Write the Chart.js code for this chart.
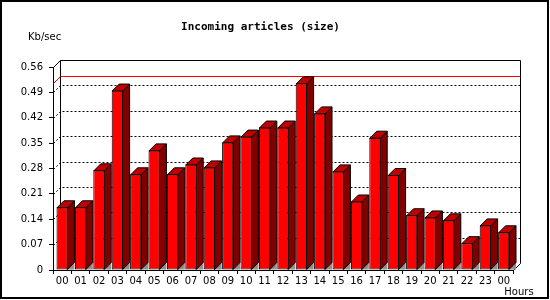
<!DOCTYPE html>
<html>
<head>
<meta charset="utf-8">
<script src="https://cdn.jsdelivr.net/npm/chart.js@4.4.1/dist/chart.umd.min.js"></script>
<style>
  html, body { margin: 0; padding: 0; background: #fff; }
  canvas { display: block; }
</style>
</head>
<body>
<canvas id="myChart" width="550" height="300"></canvas>
<script>
'use strict';
const hours = ['00', '01', '02', '03', '04', '05', '06', '07', '08', '09', '10', '11',
  '12', '13', '14', '15', '16', '17', '18', '19', '20', '21', '22', '23', '00'];
const sizeKb = [0.173, 0.173, 0.275, 0.495, 0.264, 0.330, 0.264, 0.291, 0.283, 0.352, 0.368, 0.393,
  0.393, 0.515, 0.432, 0.272, 0.189, 0.365, 0.262, 0.151, 0.145, 0.137, 0.074, 0.123, 0.104];
const yTicks = [0, 0.07, 0.14, 0.21, 0.28, 0.35, 0.42, 0.49, 0.56];
const titleText = 'Incoming articles (size)';
const yUnit = 'Kb/sec';
const xUnit = 'Hours';

const DEPTH = 7;
const labelFont = { family: 'DejaVu Sans', size: 10 };

// fake 3d: back wall, side wall, bar sides and tops
const fake3d = {
  id: 'fake3d',
  beforeDatasetsDraw(chart) {
    const { ctx, chartArea: a, scales: { y } } = chart;
    const d = DEPTH;
    const L = Math.round(a.left) + 0.5, R = Math.round(a.right) + 0.5;
    const top = Math.round(y.getPixelForValue(yTicks[yTicks.length - 1])) + 0.5;
    const bot = Math.round(y.getPixelForValue(0)) + 0.5;
    ctx.save();
    ctx.lineWidth = 1;
    ctx.strokeStyle = '#000';
    ctx.setLineDash([2, 2]);
    yTicks.slice(1, -1).forEach(v => {
      const py = Math.round(y.getPixelForValue(v)) + 0.5;
      ctx.beginPath();
      ctx.moveTo(L + d + 2, py - d);
      ctx.lineTo(R + d, py - d);
      ctx.stroke();
      ctx.beginPath();
      ctx.moveTo(L, py);
      ctx.lineTo(L + d, py - d);
      ctx.stroke();
    });
    ctx.setLineDash([]);
    ctx.beginPath();
    ctx.moveTo(L, top);
    ctx.lineTo(L + d, top - d);
    ctx.lineTo(R + d, top - d);
    ctx.lineTo(R + d, bot - d);
    ctx.lineTo(R, bot);
    ctx.moveTo(L + d, top - d);
    ctx.lineTo(L + d, bot - d);
    ctx.stroke();
    // max line
    const my = Math.round(y.getPixelForValue(Math.max(...sizeKb))) + 0.5;
    ctx.strokeStyle = '#ff0000';
    ctx.beginPath();
    ctx.moveTo(L, my);
    ctx.lineTo(L + d, my - d);
    ctx.lineTo(R + d, my - d);
    ctx.stroke();
    ctx.restore();
  },
  afterDatasetsDraw(chart) {
    const { ctx } = chart;
    const d = DEPTH;
    ctx.save();
    ctx.lineWidth = 1;
    ctx.strokeStyle = '#000';
    chart.getDatasetMeta(0).data.forEach(bar => {
      const p = bar.getProps(['x', 'y', 'base', 'width'], true);
      const l = p.x - p.width / 2;
      const r = p.x + p.width / 2 - 0.5;
      const t = p.y + 0.5;
      const b = p.base;
      // floor shadow
      ctx.fillStyle = '#909090';
      ctx.beginPath();
      ctx.moveTo(r, b);
      ctx.lineTo(r + d, b - d);
      ctx.lineTo(r + d, b);
      ctx.closePath();
      ctx.fill();
      // side
      ctx.fillStyle = '#800000';
      ctx.beginPath();
      ctx.moveTo(r, t);
      ctx.lineTo(r + d, t - d);
      ctx.lineTo(r + d, b - d);
      ctx.lineTo(r, b);
      ctx.closePath();
      ctx.fill();
      ctx.stroke();
      // top
      ctx.fillStyle = '#c00000';
      ctx.beginPath();
      ctx.moveTo(l + 0.5, t);
      ctx.lineTo(l + 0.5 + d, t - d);
      ctx.lineTo(r + d, t - d);
      ctx.lineTo(r, t);
      ctx.closePath();
      ctx.fill();
      ctx.stroke();
    });
    ctx.restore();
  },
  afterDraw(chart) {
    const { ctx } = chart;
    ctx.save();
    ctx.fillStyle = '#000';
    ctx.textBaseline = 'middle';
    ctx.font = 'bold 11px "DejaVu Sans Mono"';
    ctx.textAlign = 'center';
    ctx.fillText(titleText, 260.5, 27);
    ctx.font = '10px "DejaVu Sans"';
    ctx.textAlign = 'left';
    ctx.fillText(yUnit, 28, 37);
    ctx.textAlign = 'center';
    ctx.fillText(xUnit, 519, 292);
    ctx.strokeStyle = '#000';
    ctx.lineWidth = 2;
    ctx.strokeRect(1, 1, 547, 297);
    ctx.restore();
  }
};

const ctx = document.getElementById('myChart').getContext('2d');
const myChart = new Chart(ctx, {
  type: 'bar',
  data: {
    labels: hours,
    datasets: [
      {
        label: 'size',
        data: sizeKb,
        backgroundColor: '#ff0000',
        borderColor: '#000',
        borderWidth: 1,
        borderSkipped: false,
        categoryPercentage: 1,
        barPercentage: 0.62,
      },
    ],
  },
  options: {
    responsive: false,
    animation: false,
    events: [],
    layout: { padding: { top: 67, right: 37, bottom: 0, left: 0 } },
    plugins: {
      legend: { display: false },
      title: { display: false },
      tooltip: { enabled: false },
    },
    scales: {
      x: {
        offset: true,
        grid: { offset: true, drawOnChartArea: false, tickLength: 4, color: '#000' },
        border: { color: '#000' },
        ticks: { autoSkip: false, maxRotation: 0, padding: 1, color: '#000', font: labelFont },
        afterFit: s => { s.height = 30; },
      },
      y: {
        min: 0,
        max: 0.56,
        afterBuildTicks: s => { s.ticks = yTicks.map(v => ({ value: v })); },
        afterFit: s => { s.width = 53; },
        grid: { drawOnChartArea: false, tickLength: 4, color: '#000' },
        border: { color: '#000' },
        ticks: {
          padding: 6,
          color: '#000',
          font: labelFont,
          callback: v => (v === 0 ? '0' : v.toFixed(2)),
        },
      },
    },
  },
  plugins: [fake3d],
});
</script>
</body>
</html>
